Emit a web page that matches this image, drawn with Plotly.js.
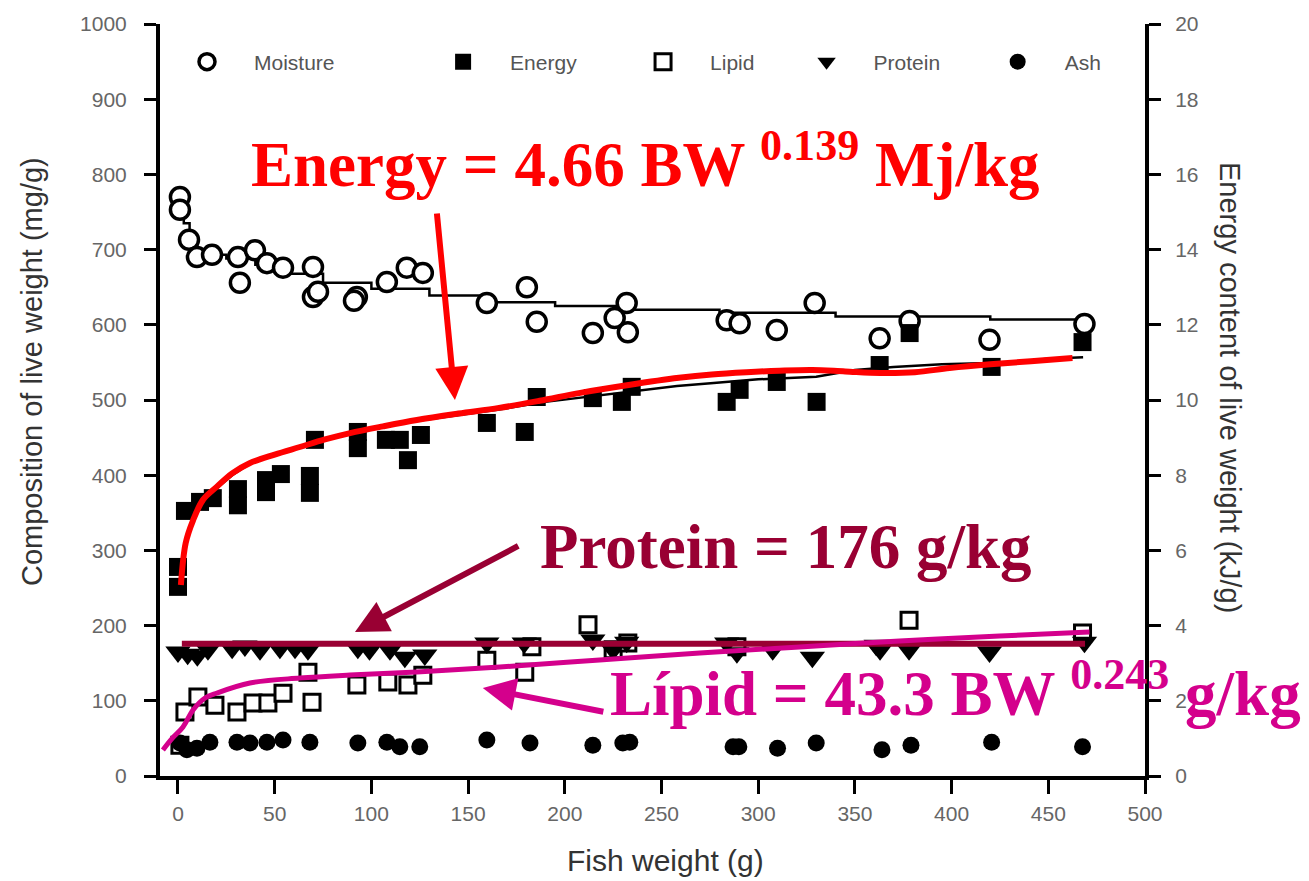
<!DOCTYPE html>
<html>
<head>
<meta charset="utf-8">
<script src="https://cdn.plot.ly/plotly-3.0.1.min.js"></script>
<style>
  html, body { margin: 0; padding: 0; background: #ffffff; }
  #chart { width: 1309px; height: 881px; }
</style>
</head>
<body>
<div id="chart"></div>
<script>
// Whole-body composition of fish against fish weight (g).
// Moisture, lipid, protein and ash in mg/g (left axis); energy in kJ/g (right axis).

const moistureX = [1, 1, 5.7, 9.8, 17.6, 31, 39.8, 32, 46, 54.3, 69.8, 69.8, 72.4, 92.5, 91, 108, 118.3, 126.6, 159.7, 180.4, 185.5, 214.5, 232, 225.8, 232.6, 283.7, 290.4, 309.6, 329.2, 362.8, 378.3, 419.6, 468.7];
const moistureY = [770, 753, 713, 690, 693, 690, 699, 656, 682, 676, 677, 637, 644, 637, 632, 657, 676, 669, 629, 650, 604, 589, 629, 609, 590, 606, 602, 593, 629, 582, 605, 580, 601];

const energyX = [0, 0, 3.6, 11.4, 18, 31, 31, 45.5, 45.5, 53.2, 68.2, 68.2, 70.8, 93, 93, 107.5, 114.7, 118.9, 125.6, 159.7, 179.3, 185.5, 214.5, 229.5, 234.6, 283.7, 290.4, 309.6, 330.2, 362.8, 378.3, 420.7, 467.7];
const energyY = [5.56, 5.03, 7.05, 7.29, 7.39, 7.63, 7.2, 7.87, 7.55, 8.03, 7.98, 7.53, 8.94, 9.15, 8.72, 8.94, 8.94, 8.40, 9.07, 9.39, 9.15, 10.08, 10.05, 9.95, 10.35, 9.95, 10.27, 10.48, 9.95, 10.93, 11.78, 10.88, 11.54];

const lipidX = [1, 3.6, 10.3, 19.1, 30.5, 38.8, 46.5, 54.3, 67.2, 69.3, 92.5, 108.5, 118.9, 126.6, 159.7, 179.3, 183, 212, 225, 232.6, 289, 378, 467.7];
const lipidY = [41, 85, 105, 94, 85, 97, 97, 110, 138, 98, 121, 125, 121, 134, 154, 138, 172, 201, 168, 177, 172, 207, 190];

const proteinX = [0, 5, 10, 15.5, 28, 34.6, 42.4, 52.7, 60.5, 67.2, 93, 99, 109.6, 117.3, 127.6, 159.7, 179, 214.5, 225, 232, 283.7, 289, 307.5, 328, 361, 363, 378, 419.6, 468.7];
const proteinY = [165, 162, 160, 168, 170, 173, 168, 170, 170, 168, 170, 168, 168, 158, 161, 177, 177, 181, 168, 178, 177, 164, 168, 158, 174, 168, 168, 165, 178];

const ashX = [1, 4.6, 9.8, 16.5, 30.5, 37.2, 46, 54.3, 68.2, 93, 108, 114.7, 125, 159.7, 182, 214.5, 230, 233.6, 287, 290, 310, 330, 364, 379, 420.7, 467.7];
const ashY = [44, 35, 37, 45, 45, 44, 45, 48, 45, 44, 45, 39, 39, 48, 44, 41, 44, 45, 39, 39, 37, 44, 35, 41, 45, 39];

// Fitted curves
const moistFitX = [1, 3, 6, 10, 18, 25, 40, 58, 75, 100, 130, 160, 195, 230, 280, 340, 420, 465];
const moistFitY = [768, 735, 712, 700, 693, 688, 680, 668, 656, 648, 639, 630, 625, 620, 616, 611, 607, 604];

const energyFitX = [1.5, 4, 8, 13, 20, 28, 37, 50, 63, 76, 89, 106, 124, 145, 166, 190, 215, 240, 258, 277, 300, 330, 350, 370, 395, 430, 450, 468];
const energyFitY = [5.0, 6.2, 6.8, 7.3, 7.65, 8.0, 8.3, 8.55, 8.75, 8.95, 9.1, 9.3, 9.45, 9.6, 9.75, 9.95, 10.1, 10.27, 10.37, 10.45, 10.55, 10.62, 10.8, 10.88, 10.95, 11.0, 11.1, 11.14];

const energyCurveX = [1.5, 4, 7.8, 13, 20, 28, 37, 50, 63, 76, 89, 106, 123.5, 145, 166, 187, 208, 233, 259, 276, 294, 311, 328, 345, 363, 381, 399, 420, 441, 462.5];
const energyCurveY = [5.08, 6.2, 6.8, 7.35, 7.69, 8.05, 8.32, 8.55, 8.75, 8.95, 9.12, 9.3, 9.47, 9.64, 9.79, 9.98, 10.19, 10.4, 10.59, 10.68, 10.74, 10.78, 10.80, 10.76, 10.72, 10.74, 10.85, 10.95, 11.03, 11.12];

const lipidCurveX = [-7.8, -3, 2.6, 7.8, 14, 20.2, 37.2, 63, 88.9, 123.5, 166.4, 218, 269.8, 321.4, 373.1, 424.8, 471.3];
const lipidCurveY = [34.6, 50, 65.2, 87.8, 103.7, 110.4, 123.7, 130.3, 134.3, 138.3, 144.9, 154.3, 163.6, 171.5, 179.5, 186.2, 191.5];

const proteinLevel = 176;          // g/kg
const proteinLineX = [2, 469];

const xTicks = [0, 50, 100, 150, 200, 250, 300, 350, 400, 450, 500];

const RED = '#ff0000';
const CRIMSON = '#990033';
const MAGENTA = '#d4008c';
const serif = 'Liberation Serif, Times New Roman, serif';
const sans = 'Liberation Sans, Arial, sans-serif';

const traces = [
  // fitted lines underneath the symbols
  { x: moistFitX, y: moistFitY, mode: 'lines', line: { color: '#000', width: 2.5, shape: 'hv' }, showlegend: false, hoverinfo: 'skip' },
  { x: energyFitX, y: energyFitY, yaxis: 'y2', mode: 'lines', line: { color: '#000', width: 2.5 }, showlegend: false, hoverinfo: 'skip' },

  { x: moistureX, y: moistureY, name: 'Moisture', mode: 'markers', legend: 'legend',
    marker: { symbol: 'circle', size: 19, color: '#fff', line: { color: '#000', width: 3.5 } } },
  { x: energyX, y: energyY, yaxis: 'y2', name: 'Energy', mode: 'markers', legend: 'legend2',
    marker: { symbol: 'square', size: 18, color: '#000', line: { width: 0 } } },
  { x: lipidX, y: lipidY, name: 'Lipid', mode: 'markers', legend: 'legend3',
    marker: { symbol: 'square', size: 16, color: '#fff', line: { color: '#000', width: 3 } } },
  { x: proteinX, y: proteinY, name: 'Protein', mode: 'markers', legend: 'legend4',
    marker: { symbol: 'triangle-down', size: 22, color: '#000', line: { width: 0 } } },
  { x: ashX, y: ashY, name: 'Ash', mode: 'markers', legend: 'legend5',
    marker: { symbol: 'circle', size: 17, color: '#000', line: { width: 0 } } },

  // highlighted model curves
  { x: energyCurveX, y: energyCurveY, yaxis: 'y2', mode: 'lines', line: { color: RED, width: 6, shape: 'spline' }, showlegend: false, hoverinfo: 'skip' },
  { x: proteinLineX, y: [proteinLevel, proteinLevel], mode: 'lines', line: { color: CRIMSON, width: 6 }, showlegend: false, hoverinfo: 'skip' },
  { x: lipidCurveX, y: lipidCurveY, mode: 'lines', line: { color: MAGENTA, width: 5, shape: 'spline' }, showlegend: false, hoverinfo: 'skip' }
];

function legendAt(xp) {
  return {
    orientation: 'h', x: xp, y: 0.9495, xanchor: 'left', yanchor: 'middle',
    bgcolor: 'rgba(0,0,0,0)', borderwidth: 0, itemwidth: 84,
    font: { family: sans, size: 21, color: '#555' }
  };
}

const axisFont = { family: sans, size: 21, color: '#666' };

const layout = {
  width: 1309, height: 881,
  margin: { l: 160, r: 164, t: 24, b: 105 },
  paper_bgcolor: '#fff', plot_bgcolor: '#fff',
  showlegend: true,
  legend: legendAt(0.0),
  legend2: legendAt(0.260),
  legend3: legendAt(0.463),
  legend4: legendAt(0.629),
  legend5: legendAt(0.823),
  xaxis: {
    range: [-9.3, 500], tickvals: xTicks, ticks: 'outside', ticklen: 14, tickwidth: 3, tickcolor: '#000',
    showline: true, linewidth: 4, linecolor: '#000', showgrid: false, zeroline: false,
    tickfont: axisFont, ticklabelstandoff: 2
  },
  yaxis: {
    range: [0, 1000], dtick: 100, ticks: 'outside', ticklen: 12, tickwidth: 3, tickcolor: '#000',
    showline: true, linewidth: 4, linecolor: '#000', showgrid: false, zeroline: false,
    tickfont: axisFont, ticklabelstandoff: 13
  },
  yaxis2: {
    overlaying: 'y', side: 'right', range: [0, 20], dtick: 2, ticks: 'outside', ticklen: 12, tickwidth: 3, tickcolor: '#000',
    showline: true, linewidth: 4, linecolor: '#000', showgrid: false, zeroline: false,
    tickfont: axisFont, ticklabelstandoff: 10
  },
  annotations: [
    // axis titles
    { xref: 'paper', yref: 'paper', x: (665 - 160) / 985, y: -(860 - 776) / 752,
      text: 'Fish weight (g)', showarrow: false, xanchor: 'center', yanchor: 'middle',
      font: { family: sans, size: 30, color: '#333' } },
    { xref: 'paper', yref: 'paper', x: (32 - 160) / 985, y: (776 - 372) / 752,
      text: 'Composition of live weight (mg/g)', textangle: -90, showarrow: false, xanchor: 'center', yanchor: 'middle',
      font: { family: sans, size: 29, color: '#333' } },
    { xref: 'paper', yref: 'paper', x: (1230 - 160) / 985, y: (776 - 387) / 752,
      text: 'Energy content of live weight (kJ/g)', textangle: 90, showarrow: false, xanchor: 'center', yanchor: 'middle',
      font: { family: sans, size: 29, color: '#333' } },

    // model equations
    { xref: 'x', yref: 'y', x: 36.5, y: 818, xanchor: 'left', yanchor: 'middle', showarrow: false,
      text: 'Energy = 4.66 BW <sup>0.139</sup> Mj/kg',
      font: { family: serif, size: 63, color: RED, weight: 'bold' } },
    { xref: 'x', yref: 'y', x: 186, y: 304, xanchor: 'left', yanchor: 'middle', showarrow: false,
      text: 'Protein = 176 g/kg',
      font: { family: serif, size: 63, color: CRIMSON, weight: 'bold' } },
    { xref: 'x', yref: 'y', x: 222.5, y: 115, xanchor: 'left', yanchor: 'middle', showarrow: false,
      text: 'Lípid = 43.3 BW <sup>0.243</sup> g/kg',
      font: { family: serif, size: 63, color: MAGENTA, weight: 'bold' } },

    // pointer arrows
    { xref: 'x', yref: 'y', axref: 'x', ayref: 'y', x: 143.2, y: 500, ax: 133.8, ay: 750, text: '',
      showarrow: true, arrowhead: 2, arrowsize: 1.1, arrowwidth: 6, arrowcolor: RED },
    { xref: 'x', yref: 'y', axref: 'x', ayref: 'y', x: 91.5, y: 191.5, ax: 176.7, ay: 307, text: '',
      showarrow: true, arrowhead: 2, arrowsize: 1.1, arrowwidth: 6, arrowcolor: CRIMSON },
    { xref: 'x', yref: 'y', axref: 'x', ayref: 'y', x: 157.6, y: 117, ax: 220.7, ay: 85, text: '',
      showarrow: true, arrowhead: 2, arrowsize: 1.1, arrowwidth: 6, arrowcolor: MAGENTA }
  ]
};

Plotly.newPlot('chart', traces, layout, { displayModeBar: false, responsive: false });
</script>
</body>
</html>
